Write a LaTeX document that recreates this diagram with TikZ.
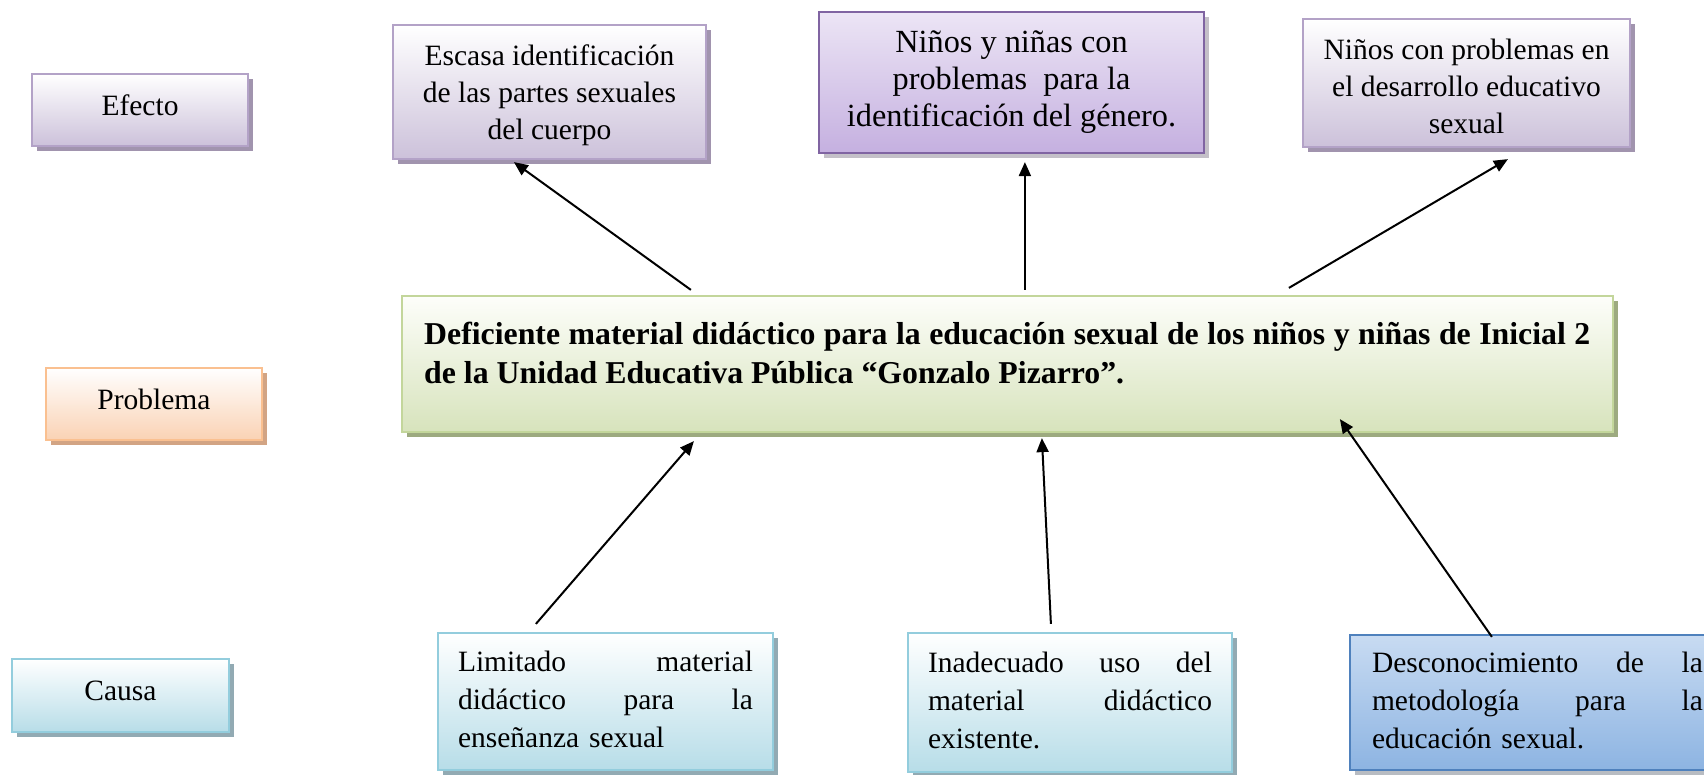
\documentclass[tikz,border=0pt]{standalone}
\usepackage{fontspec}
\setmainfont{Liberation Serif}
\usetikzlibrary{shadows,arrows.meta,calc}
\definecolor{purB}{HTML}{B3A2C7}
\definecolor{purF}{HTML}{CCC1DA}
\definecolor{purS}{HTML}{A194AE}
\definecolor{vioT}{HTML}{ECE5F5}
\definecolor{vioF}{HTML}{C5B0E0}
\definecolor{vioB}{HTML}{8064A2}
\definecolor{vioS}{HTML}{C4C0C8}
\definecolor{orB}{HTML}{FAC090}
\definecolor{orF}{HTML}{FAD2B4}
\definecolor{orS}{HTML}{D2A484}
\definecolor{grB}{HTML}{C3D69B}
\definecolor{grT}{HTML}{FDFEFA}
\definecolor{grF}{HTML}{D7E3BC}
\definecolor{grS}{HTML}{9DAA80}
\definecolor{blB}{HTML}{93CDDD}
\definecolor{blF}{HTML}{B7DDE8}
\definecolor{blS}{HTML}{92AAB3}
\definecolor{dbT}{HTML}{C8DBF2}
\definecolor{dbF}{HTML}{8DB4E2}
\definecolor{dbB}{HTML}{4F81BD}
\definecolor{dbS}{HTML}{B8BCC2}
\tikzset{
  box/.style={draw, line width=2.2pt, rectangle, inner sep=0pt},
  shad/.style={general shadow={fill=#1, shadow xshift=5pt, shadow yshift=-5pt}},
  purbox/.style={box, draw=purB, top color=white, bottom color=purF, shad=purS},
  viobox/.style={box, draw=vioB, top color=vioT, bottom color=vioF, shad=vioS},
  orbox/.style={box, draw=orB, top color=white, bottom color=orF, shad=orS},
  grbox/.style={box, draw=grB, top color=grT, bottom color=grF, shad=grS},
  blbox/.style={box, draw=blB, top color=white, bottom color=blF, shad=blS},
  dbbox/.style={box, draw=dbB, top color=dbT, bottom color=dbF, shad=dbS},
  lbl/.style={inner sep=0pt, align=center, font=\fontsize{29.5}{37}\selectfont},
  ctext/.style={inner sep=0pt, align=left, font=\fontsize{29.5}{38}\selectfont},
  arr/.style={line width=2pt, -{Triangle[length=14pt,width=12pt]}},
}
\begin{document}
\begin{tikzpicture}[x=1pt,y=-1pt]
\useasboundingbox (0,0) rectangle (1704,774);
\clip (0,0) rectangle (1704,774);

% left labels
\node[purbox, minimum width=216pt, minimum height=72pt] (efecto) at (140,110) {};
\node[lbl] (efecto-t) at ($(efecto)+(0,-4.4)$) {Efecto};
\node[orbox, minimum width=216pt, minimum height=72pt] (problema) at (154,404) {};
\node[lbl] (problema-t) at ($(problema)+(0,-5)$) {Problema};
\node[blbox, minimum width=217pt, minimum height=73pt] (causa) at (120.5,695.5) {};
\node[lbl] (causa-t) at ($(causa)+(0,-4.4)$) {Causa};

% effects
\node[purbox, minimum width=313pt, minimum height=134pt] (esc) at (549.5,92) {};
\node[lbl] (esc-t) at ($(esc)+(0,3.3)$)
  {Escasa identificación\\de las partes sexuales\\del cuerpo};
\node[viobox, minimum width=385pt, minimum height=141pt] (nin) at (1011.5,82.5) {};
\node[lbl, font=\fontsize{32.3}{37}\selectfont] (nin-t) at ($(nin)+(0,0)$)
  {Niños y niñas con\\problemas\ \ para la\\identificación del género.};
\node[purbox, minimum width=327pt, minimum height=128pt] (ncp) at (1466.5,83) {};
\node[lbl] (ncp-t) at ($(ncp)+(0,3.8)$)
  {Niños con problemas en\\el desarrollo educativo\\sexual};

% problem
\node[grbox, minimum width=1211pt, minimum height=136pt] (main) at (1007.5,364) {};
\node[anchor=north west, inner sep=0pt, text width=1166pt, align=justify,
  font=\fontsize{31.8}{39}\selectfont\bfseries] (main-t) at (424,317)
  {\strut Deficiente material didáctico para la educación sexual de los niños y niñas de Inicial~2\linebreak
   de la Unidad Educativa Pública “Gonzalo Pizarro”.};

% causes
\node[blbox, minimum width=335pt, minimum height=137pt] (lim) at (605.5,701.5) {};
\node[ctext, text width=295pt] (lim-t) at ($(lim)+(0,-2)$)
  {Limitado\hfill material\\didáctico\hfill para\hfill la\\enseñanza sexual};
\node[blbox, minimum width=324pt, minimum height=139pt] (ina) at (1070,702.5) {};
\node[ctext, text width=284pt] (ina-t) at ($(ina)+(0,-2)$)
  {Inadecuado\hfill uso\hfill del\\material\hfill didáctico\\existente.};
\node[dbbox, minimum width=375pt, minimum height=135pt] (des) at (1537.5,702.5) {};
\node[ctext, text width=331pt] (des-t) at ($(des)+(0,-2)$)
  {Desconocimiento\hfill de\hfill la\\metodología\hfill para\hfill la\\educación sexual.};

% arrows up to effects
\draw[arr] ($(main.north west)+(290,-5)$) -- ($(esc.south west)+(122,2)$);
\draw[arr] ($(main.north west)+(624,-5)$) -- ($(nin.south west)+(207,8)$);
\draw[arr] ($(main.north west)+(888,-7)$) -- ($(ncp.south west)+(206,11)$);
% arrows from causes
\draw[arr] ($(lim.north west)+(99,-8)$) -- ($(main.south west)+(293,8)$);
\draw[arr] ($(ina.north west)+(144,-8)$) -- ($(main.south west)+(641,5)$);
\draw[arr] ($(des.north west)+(143,3)$) -- ($(main.south west)+(939,-14)$);
\end{tikzpicture}
\end{document}
